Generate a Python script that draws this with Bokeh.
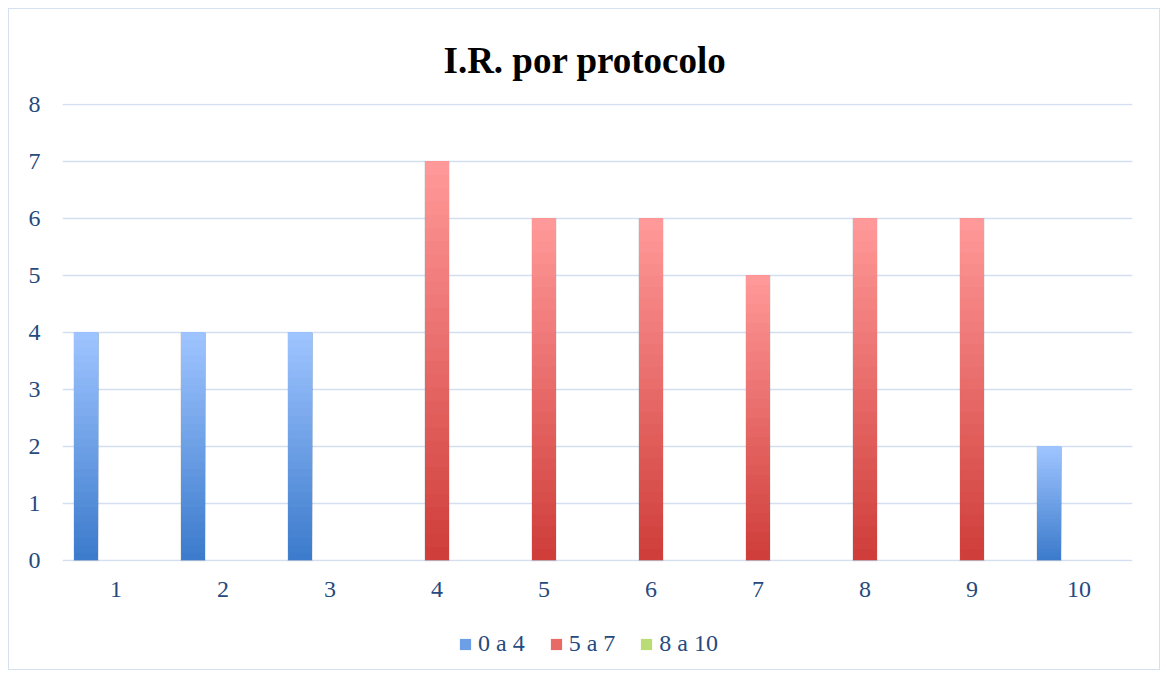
from bokeh.plotting import figure
from bokeh.layouts import column
from bokeh.models import Range1d, FixedTicker, Legend, LegendItem, ColumnDataSource
from bokeh.embed import file_html
from bokeh.resources import INLINE

# ---- data ----
categories = ["1", "2", "3", "4", "5", "6", "7", "8", "9", "10"]
series_names = ["0 a 4", "5 a 7", "8 a 10"]
values_0a4 = [4, 4, 4, 0, 0, 0, 0, 0, 0, 2]
values_5a7 = [0, 0, 0, 7, 6, 6, 5, 6, 6, 0]
values_8a10 = [0, 0, 0, 0, 0, 0, 0, 0, 0, 0]
y_ticks = [0, 1, 2, 3, 4, 5, 6, 7, 8]

# ---- style ----
TEXT_COLOR = "#264a7e"
GRID_COLOR = "#d3dff0"
FONT = "Liberation Serif"
series_styles = [
    dict(values=values_0a4, offset=-0.28, bottom="#3d7bcc", top="#9ec4ff", mid="#6c9fe6"),
    dict(values=values_5a7, offset=0.0, bottom="#cf3e3a", top="#ff9898", mid="#e86a67"),
    dict(values=values_8a10, offset=0.28, bottom="#98c044", top="#daf7a6", mid="#b9dc74"),
]
BAR_W = 0.224
N_SLICES = 30


def hex_to_rgb(h):
    h = h.lstrip("#")
    return tuple(int(h[i:i + 2], 16) for i in (0, 2, 4))


def mix(c1, c2, t):
    a, b = hex_to_rgb(c1), hex_to_rgb(c2)
    return "#%02x%02x%02x" % tuple(round(a[i] + (b[i] - a[i]) * t) for i in range(3))


p = figure(
    width=1150, height=605,
    x_range=Range1d(0.5, len(categories) + 0.5), y_range=Range1d(-0.02, 8.02),
    output_backend="svg", toolbar_location=None,
    min_border_left=53, min_border_right=27, min_border_top=94, min_border_bottom=53,
)
p.outline_line_color = None
p.border_fill_color = "white"
p.background_fill_color = "white"

# title
p.title.text = "I.R. por protocolo"
p.title.text_font = FONT
p.title.text_font_size = "37px"
p.title.text_font_style = "bold"
p.title.text_color = "black"
p.title.align = "left"
p.title.offset = 381
p.title.standoff = 46

# bars with vertical gradient (painter's layering: each slice from its start to the bar top)
for name, st in zip(series_names, series_styles):
    xs, bottoms, tops, colors, shadow_x, shadow_top = [], [], [], [], [], []
    for i, v in enumerate(st["values"]):
        if v <= 0:
            continue
        x = i + 1 + st["offset"]
        shadow_x.append(x)
        shadow_top.append(v)
        for k in range(N_SLICES):
            t = k / (N_SLICES - 1)
            xs.append(x)
            bottoms.append(v * k / N_SLICES)
            tops.append(v)
            colors.append(mix(st["bottom"], st["top"], t))
    if shadow_x:
        p.vbar(x=shadow_x, top=shadow_top, bottom=-0.04, width=BAR_W + 0.014,
               fill_color="#000000", fill_alpha=0.10, line_color=None)
    src = ColumnDataSource(dict(x=xs, bottom=bottoms, top=tops, color=colors))
    p.vbar(x="x", top="top", bottom="bottom", width=BAR_W, source=src,
           fill_color="color", line_color=None)

# axes
p.xaxis.ticker = FixedTicker(ticks=list(range(1, len(categories) + 1)))
p.xaxis.major_label_overrides = {i + 1: c for i, c in enumerate(categories)}
p.yaxis.ticker = FixedTicker(ticks=y_ticks)
for ax in (p.xaxis, p.yaxis):
    ax.axis_line_color = None
    ax.major_tick_line_color = None
    ax.minor_tick_line_color = None
    ax.major_tick_out = 0
    ax.major_tick_in = 0
    ax.major_label_text_font = FONT
    ax.major_label_text_font_size = "24px"
    ax.major_label_text_color = TEXT_COLOR
p.xaxis.major_label_standoff = 20
p.yaxis.major_label_standoff = 22

p.xgrid.grid_line_color = None
p.ygrid.grid_line_color = GRID_COLOR
p.ygrid.grid_line_width = 1.5

# ---- legend strip (separate small figure under the chart) ----
lg = figure(
    width=1150, height=55, x_range=Range1d(0, 1), y_range=Range1d(0, 1),
    output_backend="svg", toolbar_location=None,
    min_border_left=0, min_border_right=0, min_border_top=0, min_border_bottom=0,
)
lg.axis.visible = False
lg.grid.visible = False
lg.outline_line_color = None
items = []
for name, st in zip(series_names, series_styles):
    r = lg.quad(left=[-5], right=[-4], bottom=[0], top=[1],
                fill_color=st["mid"], line_color=None)
    items.append(LegendItem(label=name, renderers=[r]))
legend = Legend(
    items=items, orientation="horizontal", location=(396, 12),
    border_line_color=None, background_fill_alpha=0,
    glyph_width=14, glyph_height=14, label_standoff=6, spacing=24,
    label_text_font=FONT, label_text_font_size="24px", label_text_color=TEXT_COLOR,
    margin=0, padding=4,
)
lg.add_layout(legend)

layout = column(p, lg, spacing=0,
                styles={"border": "1px solid #d5e1f0", "margin-left": "8px", "margin-top": "8px"})

open("out.html", "w").write(file_html(layout, INLINE))
